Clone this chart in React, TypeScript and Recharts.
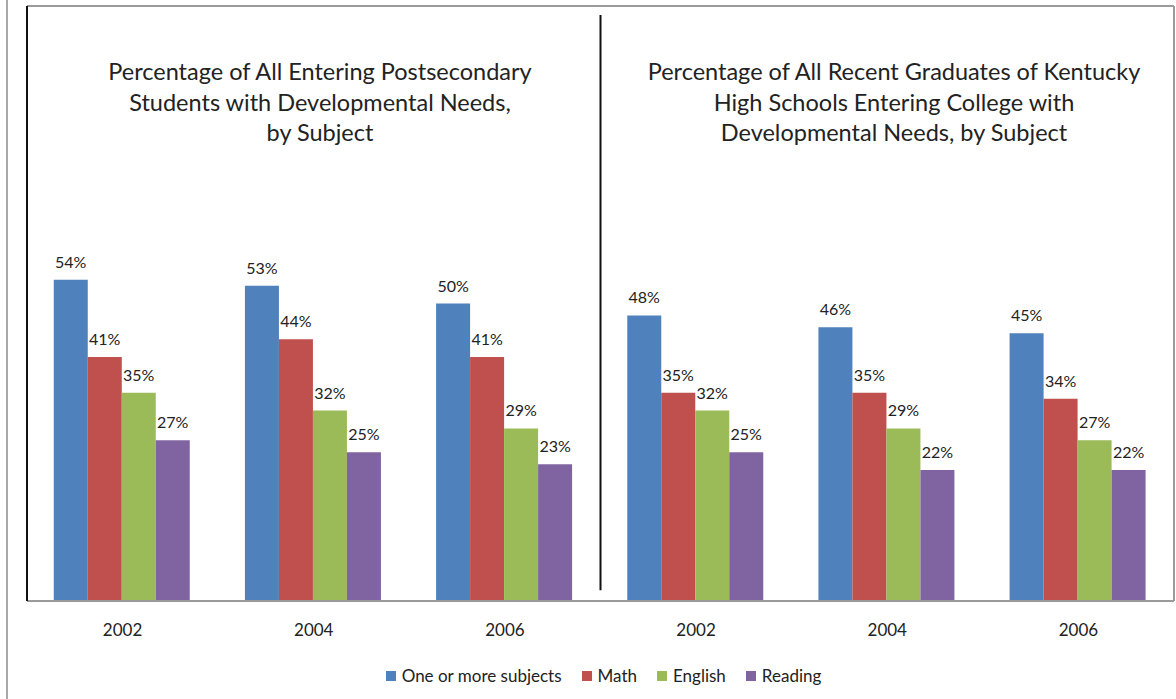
import React from 'react';
import {
  BarChart,
  Bar,
  XAxis,
  YAxis,
  Legend,
  LabelList,
  ReferenceLine,
} from 'recharts';

const categories = ['2002', '2004', '2006', '2002', '2004', '2006'];
const oneOrMore = [54, 53, 50, 48, 46, 45];
const math = [41, 44, 41, 35, 35, 34];
const english = [35, 32, 29, 32, 29, 27];
const reading = [27, 25, 23, 25, 22, 22];

const leftTitle = [
  'Percentage of All Entering Postsecondary',
  'Students with Developmental Needs,',
  'by Subject',
];
const rightTitle = [
  'Percentage of All Recent Graduates of Kentucky',
  'High Schools Entering College with',
  'Developmental Needs, by Subject',
];

const series = [
  { key: 'oneOrMore', name: 'One or more subjects', color: '#4F81BD' },
  { key: 'math', name: 'Math', color: '#C0504D' },
  { key: 'english', name: 'English', color: '#9BBB59' },
  { key: 'reading', name: 'Reading', color: '#8064A2' },
];

const data = categories.map((year, i) => ({
  id: `c${i}`,
  year,
  oneOrMore: oneOrMore[i],
  math: math[i],
  english: english[i],
  reading: reading[i],
}));

const FONT = 'Lato, "Open Sans", sans-serif';
const slotCount = categories.length;
const slotTicks = Array.from({ length: slotCount + 1 }, (_, i) => i);

function ChartLegend() {
  return (
    <div
      style={{
        display: 'flex',
        justifyContent: 'center',
        height: 20,
        lineHeight: '20px',
        fontFamily: FONT,
        fontSize: 17,
        color: '#222',
        paddingLeft: 6,
      }}
    >
      {series.map((s, i) => (
        <span
          key={s.key}
          style={{ display: 'flex', alignItems: 'center', marginRight: i === series.length - 1 ? 0 : 20 }}
        >
          <span style={{ width: 10, height: 10, background: s.color, marginRight: 6 }} />
          {s.name}
        </span>
      ))}
    </div>
  );
}

function Title({ lines, center }: { lines: string[]; center: number }) {
  return (
    <div
      style={{
        position: 'absolute',
        top: 56,
        left: center - 300,
        width: 600,
        textAlign: 'center',
        fontFamily: FONT,
        fontSize: 23.5,
        lineHeight: '30.5px',
        color: '#222',
      }}
    >
      {lines.map((l) => (
        <div key={l}>{l}</div>
      ))}
    </div>
  );
}

export default function App() {
  return (
    <div style={{ position: 'absolute', left: 0, top: 0, width: 1176, height: 699, background: '#fff' }}>
      <div style={{ position: 'absolute', left: 6, top: 0, width: 2, height: 699, background: '#a8a8a8' }} />
      <BarChart
        width={1176}
        height={699}
        data={data}
        margin={{ top: 5, right: 1, left: 26, bottom: 13 }}
        barCategoryGap="14%"
        barGap={0}
      >
        {/* baseline with Excel-style ticks between the categories */}
        <XAxis
          xAxisId={0}
          type="number"
          dataKey={() => 0}
          domain={[0, slotCount]}
          allowDataOverflow
          ticks={slotTicks}
          tick={false}
          tickSize={5}
          height={1}
          axisLine={{ stroke: '#9a9a9a', strokeWidth: 2 }}
          tickLine={{ stroke: '#9a9a9a' }}
        />
        <XAxis
          xAxisId="cat"
          dataKey="id"
          tickFormatter={(v: string) => data.find((d) => d.id === v)?.year ?? ''}
          axisLine={false}
          tickLine={false}
          tickSize={0}
          tickMargin={22}
          height={64}
          tick={{ fontFamily: FONT, fontSize: 17, fill: '#222' }}
        />
        <XAxis
          xAxisId="top"
          orientation="top"
          type="number"
          dataKey={() => 0}
          domain={[0, slotCount]}
          allowDataOverflow
          tick={false}
          tickLine={false}
          height={1}
          axisLine={{ stroke: '#9a9a9a', strokeWidth: 2 }}
        />
        <YAxis domain={[0, 100]} tick={false} tickLine={false} width={1} axisLine={{ stroke: '#111', strokeWidth: 2 }} />
        <YAxis
          yAxisId="right"
          orientation="right"
          domain={[0, 100]}
          tick={false}
          tickLine={false}
          width={1}
          axisLine={{ stroke: '#9a9a9a', strokeWidth: 2 }}
        />
        <ReferenceLine
          xAxisId="top"
          segment={[
            { x: slotCount / 2, y: 1.8 },
            { x: slotCount / 2, y: 98.5 },
          ]}
          stroke="#111"
          strokeWidth={2}
        />
        {series.map((s) => (
          <Bar key={s.key} xAxisId="cat" dataKey={s.key} name={s.name} fill={s.color} isAnimationActive={false}>
            <LabelList
              dataKey={s.key}
              position="top"
              offset={12}
              formatter={(v: number) => `${v}%`}
              style={{ fontFamily: FONT, fontSize: 16, fill: '#222' }}
            />
          </Bar>
        ))}
        <Legend verticalAlign="bottom" content={() => <ChartLegend />} />
      </BarChart>
      <Title lines={leftTitle} center={320} />
      <Title lines={rightTitle} center={894} />
    </div>
  );
}
